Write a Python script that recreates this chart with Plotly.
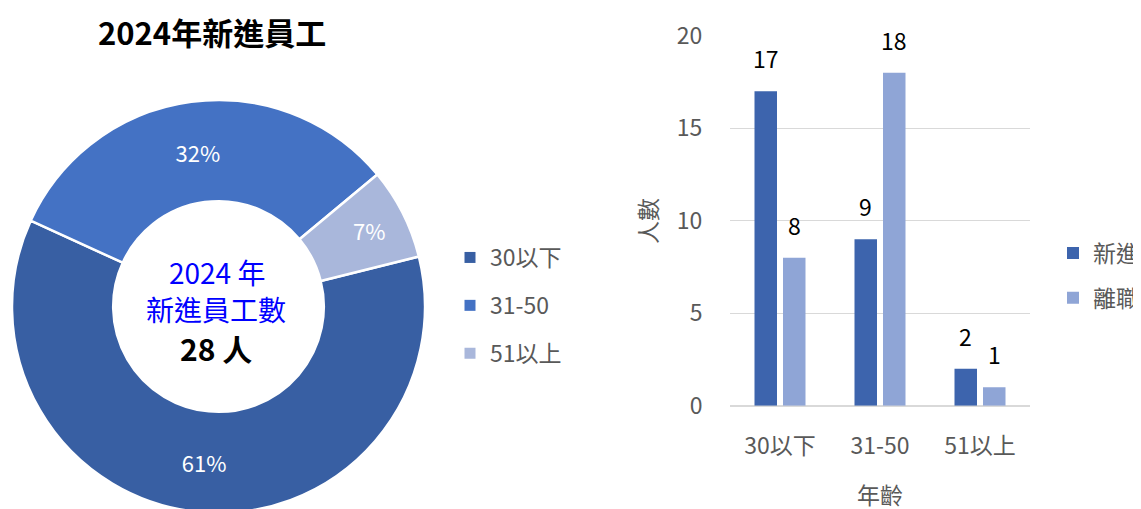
import plotly.graph_objects as go

# ---------------- data ----------------
year = 2024
categories = ["30以下", "31-50", "51以上"]
new_hires = [17, 9, 2]
departures = [8, 18, 1]
series_names = ["新進", "離職"]
y_ticks = [0, 5, 10, 15, 20]
title_text = f"{year}年新進員工"
center_line1 = f"{year} 年"
center_line2 = "新進員工數"
total_new = sum(new_hires)

# ---------------- style ----------------
# The page body has an 8px margin; the figure is sized so it reaches the
# window's right edge and runs slightly past its bottom (the donut is cut).
OFF = 8
W, H = 1133, 525
FONT = "Noto Sans CJK TC"
GRAY = "#595959"
GRID = "#D9D9D9"
pie_colors = ["#385FA3", "#4472C4", "#A9B7DB"]
bar_colors = ["#3D64AD", "#8FA5D6"]
bar_width = 0.225
bar_offsets = [-0.255, 0.03]


def fx(px):
    return (px - OFF) / W


def fy(py):
    return 1 - (py - OFF) / H


fig = go.Figure()

# Donut
fig.add_trace(go.Pie(
    labels=categories, values=new_hires, sort=False,
    direction="clockwise", rotation=76, hole=0.51,
    marker=dict(colors=pie_colors, line=dict(color="white", width=2.5)),
    texttemplate="%{percent:.0%}", textposition="inside",
    insidetextorientation="horizontal",
    textfont=dict(family=FONT, size=22, color="white"),
    domain=dict(x=[fx(12), fx(425)], y=[fy(513), fy(100)]),
    automargin=False,
    showlegend=False,
))

# Legend entries for the donut categories
for cat, col in zip(categories, pie_colors):
    fig.add_trace(go.Scatter(
        x=[None], y=[None], mode="markers", name=cat,
        marker=dict(symbol="square", size=11, color=col),
        legend="legend", legendgroup="pie_" + cat, showlegend=True,
        hoverinfo="skip",
    ))

# Bars
for name, vals, col, off in zip(series_names, [new_hires, departures], bar_colors, bar_offsets):
    fig.add_trace(go.Bar(
        x=categories, y=vals, name=name,
        marker=dict(color=col, line=dict(width=0)),
        width=bar_width, offset=off,
        legend="legend2", legendgroup="bar_" + name,
    ))
    for i, v in enumerate(vals):
        fig.add_annotation(
            x=i + off + bar_width / 2, y=v, xref="x", yref="y",
            text=str(v), showarrow=False, yanchor="middle", yshift=33,
            font=dict(family=FONT, size=23, color="black"),
        )

# Titles / center texts
fig.add_annotation(x=fx(211.5), y=fy(32), xref="paper", yref="paper",
                   text=f"<b>{title_text}</b>", showarrow=False,
                   xanchor="center", yanchor="middle",
                   font=dict(family=FONT, size=31, color="black"))
fig.add_annotation(x=fx(217), y=fy(272), xref="paper", yref="paper",
                   text=center_line1, showarrow=False,
                   xanchor="center", yanchor="middle",
                   font=dict(family=FONT, size=28, color="#0000FF"))
fig.add_annotation(x=fx(216), y=fy(309), xref="paper", yref="paper",
                   text=center_line2, showarrow=False,
                   xanchor="center", yanchor="middle",
                   font=dict(family=FONT, size=28, color="#0000FF"))
fig.add_annotation(x=fx(216), y=fy(348), xref="paper", yref="paper",
                   text=f"<b>{total_new} 人</b>", showarrow=False,
                   xanchor="center", yanchor="middle",
                   font=dict(family=FONT, size=30, color="black"))
# Axis titles
fig.add_annotation(x=fx(647), y=fy(221), xref="paper", yref="paper",
                   text="人數", showarrow=False, textangle=-90,
                   xanchor="center", yanchor="middle",
                   font=dict(family=FONT, size=23, color=GRAY))
fig.add_annotation(x=fx(880), y=fy(494), xref="paper", yref="paper",
                   text="年齡", showarrow=False,
                   xanchor="center", yanchor="middle",
                   font=dict(family=FONT, size=23, color=GRAY))

fig.update_layout(
    width=W, height=H, margin=dict(l=0, r=0, t=0, b=0, autoexpand=False),
    paper_bgcolor="white", plot_bgcolor="white",
    font=dict(family=FONT, size=23, color=GRAY),
    barmode="overlay", showlegend=True,
    legend=dict(x=fx(450), y=fy(236), xanchor="left", yanchor="top",
                traceorder="grouped", tracegroupgap=15, itemwidth=30,
                bgcolor="rgba(0,0,0,0)",
                font=dict(family=FONT, size=23, color=GRAY)),
    legend2=dict(x=fx(1053), y=fy(231.5), xanchor="left", yanchor="top",
                 traceorder="grouped", tracegroupgap=12, itemwidth=30,
                 bgcolor="rgba(0,0,0,0)",
                 font=dict(family=FONT, size=23, color=GRAY)),
    xaxis=dict(domain=[fx(730), fx(1030)], range=[-0.5, 2.5],
               type="category", categoryorder="array", categoryarray=categories,
               showgrid=False, zeroline=False, showline=False, automargin=False,
               ticks="outside", ticklen=20, tickcolor="rgba(0,0,0,0)",
               tickfont=dict(family=FONT, size=23, color=GRAY)),
    yaxis=dict(domain=[fy(405.7), fy(35.7)], range=[0, 20],
               tickvals=y_ticks, showgrid=True, gridcolor=GRID, gridwidth=1,
               zeroline=True, zerolinecolor=GRID, zerolinewidth=1.5,
               showline=False, automargin=False,
               ticks="outside", ticklen=22, tickcolor="rgba(0,0,0,0)",
               tickfont=dict(family=FONT, size=23, color=GRAY)),
)

fig.write_html("out.html")
